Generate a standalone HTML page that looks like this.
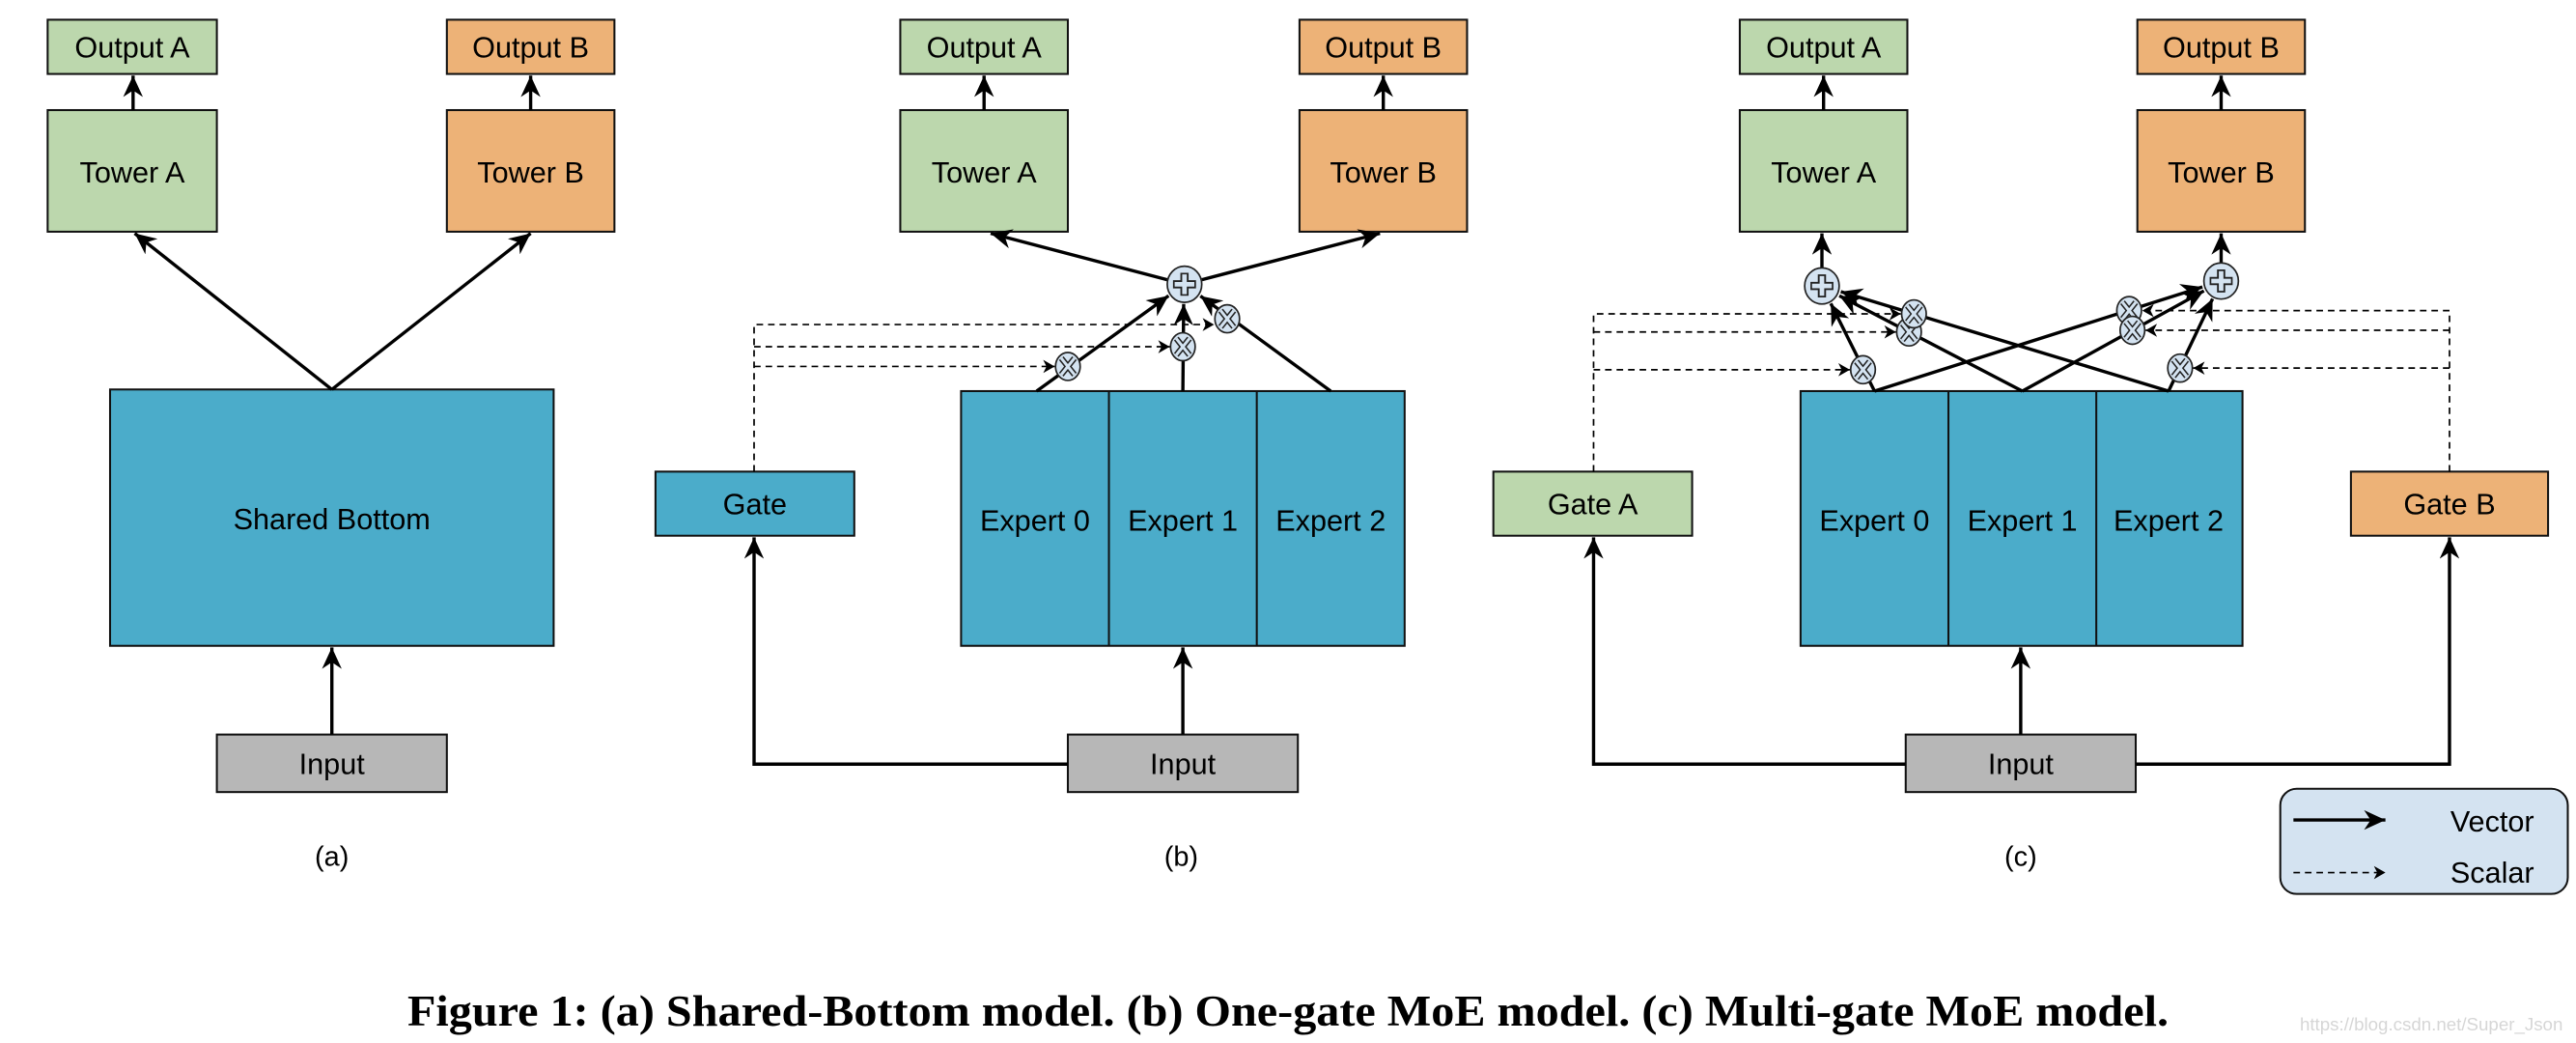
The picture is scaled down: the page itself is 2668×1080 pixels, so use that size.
<!DOCTYPE html>
<html><head><meta charset="utf-8"><style>html,body{margin:0;padding:0;background:#fff}svg{display:block}</style></head>
<body>
<svg width="2668" height="1080" viewBox="0 0 1568 634.7" preserveAspectRatio="none" xmlns="http://www.w3.org/2000/svg">
<defs>
<marker id="ah" markerUnits="userSpaceOnUse" markerWidth="14" markerHeight="12" refX="13" refY="6" orient="auto">
<path d="M0,0 L13,6 L0,12 L4,6 Z" fill="#000"/></marker>
<marker id="sh" markerUnits="userSpaceOnUse" markerWidth="8" markerHeight="8" refX="7" refY="4" orient="auto">
<path d="M0,0 L7,4 L0,8 L2,4 Z" fill="#000"/></marker>
<g id="mul"><ellipse cx="0" cy="0" rx="7.5" ry="8.5" fill="#d4e3f1" stroke="#222" stroke-width="1"/>
<path d="M-4,-5 L4,5 M4,-5 L-4,5" stroke="#222" stroke-width="3.6"/><path d="M-4,-5 L4,5 M4,-5 L-4,5" stroke="#d4e3f1" stroke-width="1.8"/></g>
<g id="plus"><ellipse cx="0" cy="0" rx="10.5" ry="11" fill="#d4e3f1" stroke="#222" stroke-width="1"/>
<path d="M0,-7 L0,7 M-7,0 L7,0" stroke="#222" stroke-width="5"/><path d="M0,-6 L0,6 M-6,0 L6,0" stroke="#d4e3f1" stroke-width="2.8"/></g>
</defs>
<g font-family="Liberation Sans, sans-serif" font-size="18" text-anchor="middle" fill="#000">
<g stroke="#111" stroke-width="1.2">
<rect x="29" y="12" width="103" height="33" fill="#bcd7ad"/>
<rect x="29" y="67" width="103" height="74" fill="#bcd7ad"/>
<rect x="272" y="12" width="102" height="33" fill="#edb277"/>
<rect x="272" y="67" width="102" height="74" fill="#edb277"/>
<rect x="67" y="237" width="270" height="156" fill="#4bacca"/>
<rect x="132" y="447" width="140" height="35" fill="#b7b7b7"/>
<rect x="548" y="12" width="102" height="33" fill="#bcd7ad"/>
<rect x="548" y="67" width="102" height="74" fill="#bcd7ad"/>
<rect x="791" y="12" width="102" height="33" fill="#edb277"/>
<rect x="791" y="67" width="102" height="74" fill="#edb277"/>
<rect x="585" y="238" width="270" height="155" fill="#4bacca"/>
<line x1="675" y1="238" x2="675" y2="393"/><line x1="765" y1="238" x2="765" y2="393"/>
<rect x="399" y="287" width="121" height="39" fill="#4bacca"/>
<rect x="650" y="447" width="140" height="35" fill="#b7b7b7"/>
<rect x="1059" y="12" width="102" height="33" fill="#bcd7ad"/>
<rect x="1059" y="67" width="102" height="74" fill="#bcd7ad"/>
<rect x="1301" y="12" width="102" height="33" fill="#edb277"/>
<rect x="1301" y="67" width="102" height="74" fill="#edb277"/>
<rect x="1096" y="238" width="269" height="155" fill="#4bacca"/>
<line x1="1186" y1="238" x2="1186" y2="393"/><line x1="1276" y1="238" x2="1276" y2="393"/>
<rect x="909" y="287" width="121" height="39" fill="#bcd7ad"/>
<rect x="1431" y="287" width="120" height="39" fill="#edb277"/>
<rect x="1160" y="447" width="140" height="35" fill="#b7b7b7"/>
<rect x="1388" y="480" width="175" height="64" rx="10" fill="#d4e3f1"/>
</g>
<g stroke="#000" stroke-width="2" fill="none" marker-end="url(#ah)">
<line x1="81" y1="67" x2="81" y2="46"/><line x1="323" y1="67" x2="323" y2="46"/>
<line x1="202" y1="237" x2="82" y2="142"/><line x1="202" y1="237" x2="323" y2="142"/>
<line x1="202" y1="447" x2="202" y2="394"/>
<line x1="599" y1="67" x2="599" y2="46"/><line x1="842" y1="67" x2="842" y2="46"/>
<line x1="710.4" y1="170.2" x2="603" y2="142"/><line x1="731.6" y1="170.2" x2="840" y2="142"/>
<line x1="631" y1="238" x2="711.3" y2="180"/><line x1="720" y1="238" x2="720.5" y2="185"/><line x1="810" y1="238" x2="730.7" y2="180.1"/>
<polyline points="650,465 459,465 459,327"/><line x1="720" y1="447" x2="720" y2="394"/>
<line x1="1110" y1="67" x2="1110" y2="46"/><line x1="1352" y1="67" x2="1352" y2="46"/>
<line x1="1109" y1="163" x2="1109" y2="142"/><line x1="1352" y1="160" x2="1352" y2="142"/>
<line x1="1141" y1="238" x2="1114.4" y2="184.7"/><line x1="1141" y1="238" x2="1340.6" y2="174.6"/>
<line x1="1231" y1="238" x2="1119.6" y2="180"/><line x1="1231" y1="238" x2="1341.5" y2="177"/>
<line x1="1320" y1="238" x2="1120.5" y2="177.5"/><line x1="1320" y1="238" x2="1346.8" y2="181.8"/>
<polyline points="1160,465 970,465 970,327"/><polyline points="1300,465 1491,465 1491,327"/>
<line x1="1230" y1="447" x2="1230" y2="394"/>
<line x1="1396" y1="499" x2="1452" y2="499"/>
</g>
<g stroke="#000" stroke-width="1" fill="none" stroke-dasharray="4,3">
<polyline points="459,287 459,197.5 739,197.5" marker-end="url(#sh)"/>
<line x1="459" y1="211" x2="712" y2="211" marker-end="url(#sh)"/>
<line x1="459" y1="223" x2="642" y2="223" marker-end="url(#sh)"/>
<polyline points="970,287 970,191 1157,191" marker-end="url(#sh)"/>
<line x1="970" y1="202" x2="1154" y2="202" marker-end="url(#sh)"/>
<line x1="970" y1="225" x2="1126" y2="225" marker-end="url(#sh)"/>
<polyline points="1491,287 1491,189 1304,189" marker-end="url(#sh)"/>
<line x1="1491" y1="201" x2="1306" y2="201" marker-end="url(#sh)"/>
<line x1="1491" y1="224" x2="1335" y2="224" marker-end="url(#sh)"/>
<line x1="1396" y1="531" x2="1452" y2="531" marker-end="url(#sh)"/>
</g>
<use href="#plus" x="721" y="173"/>
<use href="#mul" x="650" y="223"/><use href="#mul" x="720" y="211"/><use href="#mul" x="747" y="194"/>
<use href="#plus" x="1109" y="174"/><use href="#plus" x="1352" y="171"/>
<use href="#mul" x="1134" y="225"/><use href="#mul" x="1296" y="189"/><use href="#mul" x="1162" y="202"/>
<use href="#mul" x="1298" y="201"/><use href="#mul" x="1165" y="191"/><use href="#mul" x="1327" y="224"/>
<text x="80.5" y="35">Output A</text><text x="80.5" y="111">Tower A</text>
<text x="323" y="35">Output B</text><text x="323" y="111">Tower B</text>
<text x="202" y="322">Shared Bottom</text><text x="202" y="471">Input</text>
<text x="202" y="527" font-size="17">(a)</text>
<text x="599" y="35">Output A</text><text x="599" y="111">Tower A</text>
<text x="842" y="35">Output B</text><text x="842" y="111">Tower B</text>
<text x="630" y="323">Expert 0</text><text x="720" y="323">Expert 1</text><text x="810" y="323">Expert 2</text>
<text x="459.5" y="313">Gate</text><text x="720" y="471">Input</text>
<text x="719" y="527" font-size="17">(b)</text>
<text x="1110" y="35">Output A</text><text x="1110" y="111">Tower A</text>
<text x="1352" y="35">Output B</text><text x="1352" y="111">Tower B</text>
<text x="1141" y="323">Expert 0</text><text x="1231" y="323">Expert 1</text><text x="1320" y="323">Expert 2</text>
<text x="969.5" y="313">Gate A</text><text x="1491" y="313">Gate B</text><text x="1230" y="471">Input</text>
<text x="1230" y="527" font-size="17">(c)</text>
<text x="1517" y="506">Vector</text><text x="1517" y="537">Scalar</text>
<text x="1560" y="627" font-size="11" fill="#d6d6d6" text-anchor="end">https://blog.csdn.net/Super_Json</text>
<text x="784" y="624" font-family="Liberation Serif, serif" font-weight="bold" font-size="27" textLength="1072" lengthAdjust="spacingAndGlyphs">Figure 1: (a) Shared-Bottom model. (b) One-gate MoE model. (c) Multi-gate MoE model.</text>
</g>
</svg>
</body></html>
